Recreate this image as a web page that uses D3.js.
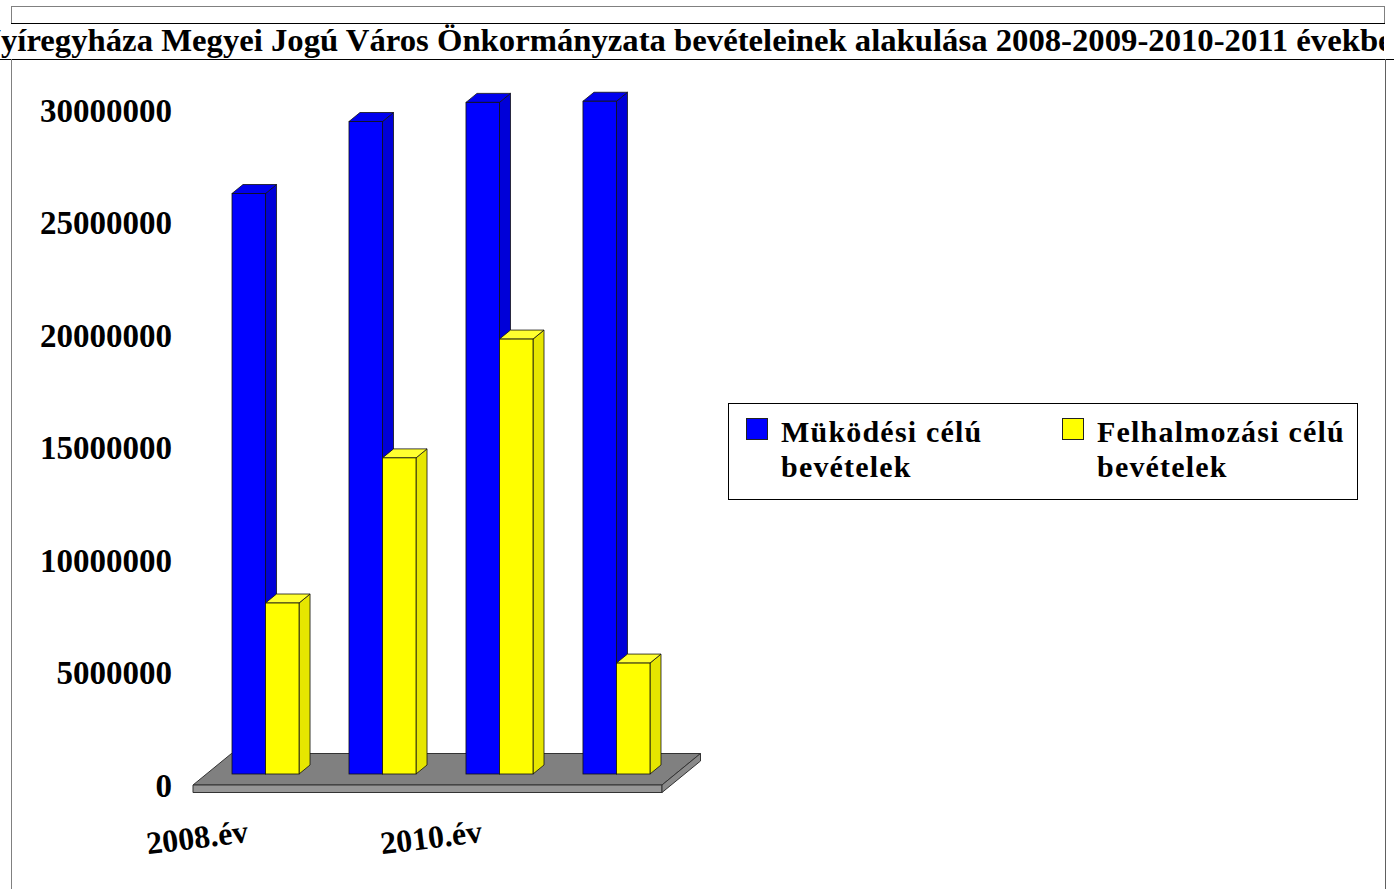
<!DOCTYPE html>
<html>
<head>
<meta charset="utf-8">
<script src="https://cdn.jsdelivr.net/npm/d3@7"></script>
<style>
body { margin: 0; background: #fff; }
svg { display: block; font-family: "Liberation Serif", "Times New Roman", serif; font-weight: bold; }
</style>
</head>
<body>
<svg width="1394" height="889"></svg>
<script>
let title = "Nyíregyháza Megyei Jogú Város Önkormányzata bevételeinek alakulása 2008-2009-2010-2011 években"
let years = ["2008.év", "2009.év", "2010.év", "2011.év"]
let shownYears = ["2008.év", "2010.év"]
let seriesNames = [["Müködési célú", "bevételek"], ["Felhalmozási célú", "bevételek"]]
let mukodesi = [25800000, 29000000, 29850000, 29900000]
let felhalmozasi = [7600000, 14050000, 19330000, 4930000]
let yTicks = [0, 5000000, 10000000, 15000000, 20000000, 25000000, 30000000]

let colors = [
    {front: "#0000ff", top: "#0000ee", side: "#0000d8"},
    {front: "#ffff00", top: "#ffff30", side: "#e6e600"}
]

let svg = d3.select("svg")

// frame of the page
svg.append("rect").attr("x", 11.5).attr("y", 6.5).attr("width", 1373).attr("height", 17)
    .attr("fill", "none").attr("stroke", "#808080")
svg.append("line").attr("x1", 11).attr("x2", 1385).attr("y1", 23.5).attr("y2", 23.5).attr("stroke", "#000")
svg.append("line").attr("x1", 0).attr("x2", 1394).attr("y1", 59.5).attr("y2", 59.5).attr("stroke", "#000")
svg.append("line").attr("x1", 11.5).attr("x2", 11.5).attr("y1", 59).attr("y2", 889).attr("stroke", "#808080")
svg.append("line").attr("x1", 1385.5).attr("x2", 1385.5).attr("y1", 59).attr("y2", 889).attr("stroke", "#606060")

// title, clipped on both sides like in the original
svg.append("clipPath").attr("id", "titleclip").append("rect")
    .attr("x", 0).attr("y", 24).attr("width", 1384).attr("height", 35)
let titleText = svg.append("g").attr("clip-path", "url(#titleclip)")
    .append("text").attr("x", 0).attr("y", 0)
    .style("font-size", "31px")
    .text(title)
let tnode = titleText.node()
let lead = tnode.getSubStringLength(0, 1)
let visible = tnode.getSubStringLength(1, title.length - 2)
let sx = 1392 / visible
titleText.attr("transform", "translate(" + (1 - lead * sx) + ",51) scale(" + sx + ",1)")

// scales: front plane of the floor
let x = d3.scaleBand().domain(years).range([193, 662]).paddingInner(0.427).paddingOuter(0.218)
let y = d3.scaleLinear().domain([0, 30000000]).range([785, 110])
let floorDepth = [38.5, -31.5]
let barShift = [13.5, -11]
let barDepth = [11, -9]
let floorThick = 7.5

// floor
let fx0 = x.range()[0], fx1 = x.range()[1], fy = y(0)
let poly = pts => pts.map(p => p.join(",")).join(" ")
svg.append("polygon")
    .attr("points", poly([[fx0, fy], [fx1, fy], [fx1 + floorDepth[0], fy + floorDepth[1]], [fx0 + floorDepth[0], fy + floorDepth[1]]]))
    .attr("fill", "#808080").attr("stroke", "#333").attr("stroke-width", 1)
svg.append("polygon")
    .attr("points", poly([[fx0, fy], [fx1, fy], [fx1, fy + floorThick], [fx0, fy + floorThick]]))
    .attr("fill", "#969696").attr("stroke", "#333").attr("stroke-width", 1)
svg.append("polygon")
    .attr("points", poly([[fx1, fy], [fx1 + floorDepth[0], fy + floorDepth[1]], [fx1 + floorDepth[0], fy + floorDepth[1] + floorThick], [fx1, fy + floorThick]]))
    .attr("fill", "#8a8a8a").attr("stroke", "#333").attr("stroke-width", 1)

// bars
let bw = x.bandwidth() / 2
let bars = []
years.forEach((yr, i) => {
    bars.push({year: yr, s: 0, value: mukodesi[i]})
    bars.push({year: yr, s: 1, value: felhalmozasi[i]})
})
let bar = svg.append("g").selectAll("g").data(bars).join("g")
bar.each(function(d) {
    let g = d3.select(this)
    let x0 = x(d.year) + d.s * bw + barShift[0]
    let x1 = x0 + bw
    let yb = y(0) + barShift[1]
    let yt = y(d.value) + barShift[1]
    let c = colors[d.s]
    g.append("polygon")
        .attr("points", poly([[x1, yt], [x1 + barDepth[0], yt + barDepth[1]], [x1 + barDepth[0], yb + barDepth[1]], [x1, yb]]))
        .attr("fill", c.side).attr("stroke", "#111").attr("stroke-width", 0.8)
    g.append("polygon")
        .attr("points", poly([[x0, yt], [x1, yt], [x1 + barDepth[0], yt + barDepth[1]], [x0 + barDepth[0], yt + barDepth[1]]]))
        .attr("fill", c.top).attr("stroke", "#111").attr("stroke-width", 0.8)
    g.append("rect")
        .attr("x", x0).attr("y", yt).attr("width", bw).attr("height", yb - yt)
        .attr("fill", c.front).attr("stroke", "#111").attr("stroke-width", 0.8)
})

// y labels
svg.append("g").selectAll("text").data(yTicks).join("text")
    .attr("x", 172).attr("y", d => y(d))
    .attr("dy", "0.35em")
    .attr("text-anchor", "end")
    .style("font-size", "33px")
    .text(d => d)

// x labels, only every other one fits
svg.append("g").selectAll("text").data(shownYears).join("text")
    .attr("transform", d => "translate(" + (x(d) + x.bandwidth() / 2 - 55) + ",837) rotate(-7)")
    .attr("text-anchor", "middle")
    .attr("dy", "0.35em")
    .style("font-size", "32px")
    .text(d => d)

// legend
let legend = svg.append("g")
legend.append("rect").attr("x", 728.5).attr("y", 403.5).attr("width", 629).attr("height", 96)
    .attr("fill", "#fff").attr("stroke", "#000")
let item = legend.selectAll("g").data(seriesNames).join("g")
    .attr("transform", (d, i) => "translate(" + (746 + i * 316) + ",418)")
item.append("rect").attr("x", 0.5).attr("y", 0.5).attr("width", 21).attr("height", 21)
    .attr("fill", (d, i) => colors[i].front).attr("stroke", "#222")
item.append("text")
    .style("font-size", "30px").style("letter-spacing", "1.2px")
    .selectAll("tspan").data(d => d).join("tspan")
    .attr("x", 35).attr("y", (d, j) => 24 + j * 35)
    .text(d => d)
</script>
</body>
</html>
